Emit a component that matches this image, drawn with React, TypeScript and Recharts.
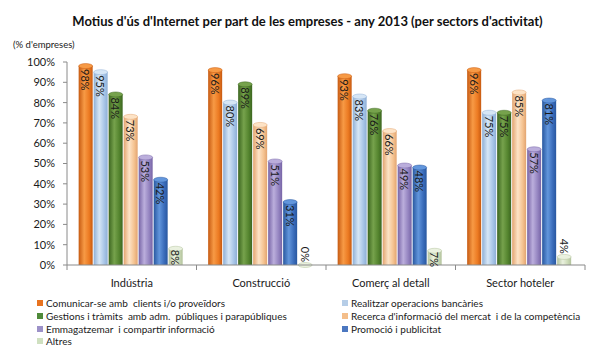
import React from 'react';
import { BarChart, Bar, XAxis, YAxis, LabelList } from 'recharts';

const categories = ['Indústria', 'Construcció', 'Comerç al detall', 'Sector hoteler'];
const seriesNames = [
  'Comunicar-se amb  clients i/o proveïdors',
  'Realitzar operacions bancàries',
  'Gestions i tràmits  amb adm.  públiques i parapúbliques',
  "Recerca d'informació del mercat  i de la competència",
  'Emmagatzemar  i compartir informació',
  'Promoció i publicitat',
  'Altres',
];
const comunicar = [98, 96, 93, 96];
const bancaries = [95, 80, 83, 75];
const gestions = [84, 89, 76, 75];
const recerca = [73, 69, 66, 85];
const emmagatzemar = [53, 51, 49, 57];
const promocio = [42, 31, 48, 81];
const altres = [8, 0, 7, 4];
const yTicks = [0, 10, 20, 30, 40, 50, 60, 70, 80, 90, 100];

const seriesValues = [comunicar, bancaries, gestions, recerca, emmagatzemar, promocio, altres];

const seriesColors = [
  { dark: '#C65A12', light: '#F79A45', base: '#EC7A22', legend: '#E8731F' },
  { dark: '#8EAFD6', light: '#D6E6F6', base: '#A9C6E8', legend: '#B6CDE7' },
  { dark: '#3C6620', light: '#76A24C', base: '#55852F', legend: '#4F8A3A' },
  { dark: '#E2A470', light: '#FDE3C6', base: '#F5C391', legend: '#F4BE8A' },
  { dark: '#7764A6', light: '#BBAEDC', base: '#9484C0', legend: '#9C91C8' },
  { dark: '#28579F', light: '#6296DC', base: '#3B6DBB', legend: '#4B77C0' },
  { dark: '#B3C39D', light: '#EAF1DF', base: '#CDDBB8', legend: '#CFE0C0' },
];

const data = categories.map((cat, ci) => {
  const row: Record<string, any> = { cat };
  seriesValues.forEach((vals, si) => {
    row['s' + si] = vals[ci];
  });
  return row;
});

const makeShape = (si: number) => (props: any) => {
  const { x, y, width, height } = props;
  if (x == null || y == null) return null;
  const c = seriesColors[si];
  const h = Math.max(0, height || 0);
  return (
    <g>
      {h > 0 && <rect x={x} y={y} width={width} height={h} fill={`url(#grad${si})`} />}
      <ellipse cx={x + width / 2} cy={y} rx={width / 2} ry={2.5} fill={c.light} stroke={c.dark} strokeWidth={0.5} />
    </g>
  );
};

const renderLabel = (props: any) => {
  const { x, y, width, value } = props;
  if (x == null || y == null) return null;
  const cx = x + width / 2;
  const inside = value >= 7;
  const ty = inside ? y + (value >= 10 ? 3 : 1) : y - 3;
  return (
    <text
      x={cx}
      y={ty}
      transform={`rotate(90 ${cx} ${ty})`}
      textAnchor={inside ? 'start' : 'end'}
      dominantBaseline="central"
      fontSize={11}
      fontFamily="Lato"
      fill="#1a1a1a"
    >
      {value}%
    </text>
  );
};

const XTick = (props: any) => {
  const { x, y, payload, index } = props;
  const off = payload && payload.offset ? payload.offset : 64.75;
  return (
    <g>
      <line x1={x + off} x2={x + off} y1={y - 7} y2={y - 2} stroke="#8a8a8a" />
      {index === 0 && <line x1={x - off} x2={x - off} y1={y - 7} y2={y - 2} stroke="#8a8a8a" />}
      <text x={x} y={y + 15} textAnchor="middle" fontSize={11} fontFamily="Lato" fill="#1a1a1a">
        {payload.value}
      </text>
    </g>
  );
};

export default function App() {
  return (
    <div style={{ position: 'absolute', left: 0, top: 0, width: 615, height: 357, background: '#fff', fontFamily: 'Lato', overflow: 'hidden' }}>
      <div style={{ position: 'absolute', left: 0, width: 615, top: 13, textAlign: 'center', fontWeight: 700, fontSize: 13, color: '#111', whiteSpace: 'nowrap' }}>
        Motius d'ús d'Internet per part de les empreses - any 2013 (per sectors d'activitat)
      </div>
      <div style={{ position: 'absolute', left: 13, top: 39, fontSize: 9.5, color: '#222', whiteSpace: 'nowrap' }}>
        (% d'empreses)
      </div>
      <BarChart
        width={615}
        height={357}
        data={data}
        margin={{ top: 62, right: 30, left: 0, bottom: 70 }}
        barCategoryGap="9%"
        barGap={1}
      >
        <defs>
          {seriesColors.map((c, i) => (
            <linearGradient key={i} id={`grad${i}`} x1="0" y1="0" x2="1" y2="0">
              <stop offset="0%" stopColor={c.dark} />
              <stop offset="40%" stopColor={c.light} />
              <stop offset="75%" stopColor={c.base} />
              <stop offset="100%" stopColor={c.dark} />
            </linearGradient>
          ))}
        </defs>
        <XAxis
          dataKey="cat"
          height={22}
          tickSize={5}
          tickMargin={2}
          tickLine={false}
          axisLine={{ stroke: '#8a8a8a' }}
          tick={<XTick />}
          interval={0}
        />
        <YAxis
          width={67}
          domain={[0, 100]}
          ticks={yTicks}
          tickFormatter={(v: number) => v + '%'}
          tickSize={4}
          tickMargin={8}
          axisLine={{ stroke: '#8a8a8a' }}
          tickLine={{ stroke: '#8a8a8a' }}
          tick={{ fontSize: 11, fill: '#1a1a1a', fontFamily: 'Lato' }}
          interval={0}
        />
        {seriesNames.map((name, si) => (
          <Bar key={si} dataKey={'s' + si} name={name} fill={seriesColors[si].base} shape={makeShape(si)} isAnimationActive={false}>
            <LabelList dataKey={'s' + si} content={renderLabel} />
          </Bar>
        ))}
      </BarChart>
      <div
        style={{
          position: 'absolute',
          left: 37,
          top: 297,
          display: 'grid',
          gridTemplateColumns: '305px auto',
          gridAutoRows: '12.7px',
          fontSize: 10,
          color: '#1a1a1a',
        }}
      >
        {seriesNames.map((name, si) => (
          <div key={si} style={{ display: 'flex', alignItems: 'center', whiteSpace: 'pre' }}>
            <span style={{ display: 'inline-block', width: 6, height: 6, background: seriesColors[si].legend, marginRight: 3 }} />
            <span>{name}</span>
          </div>
        ))}
      </div>
    </div>
  );
}
